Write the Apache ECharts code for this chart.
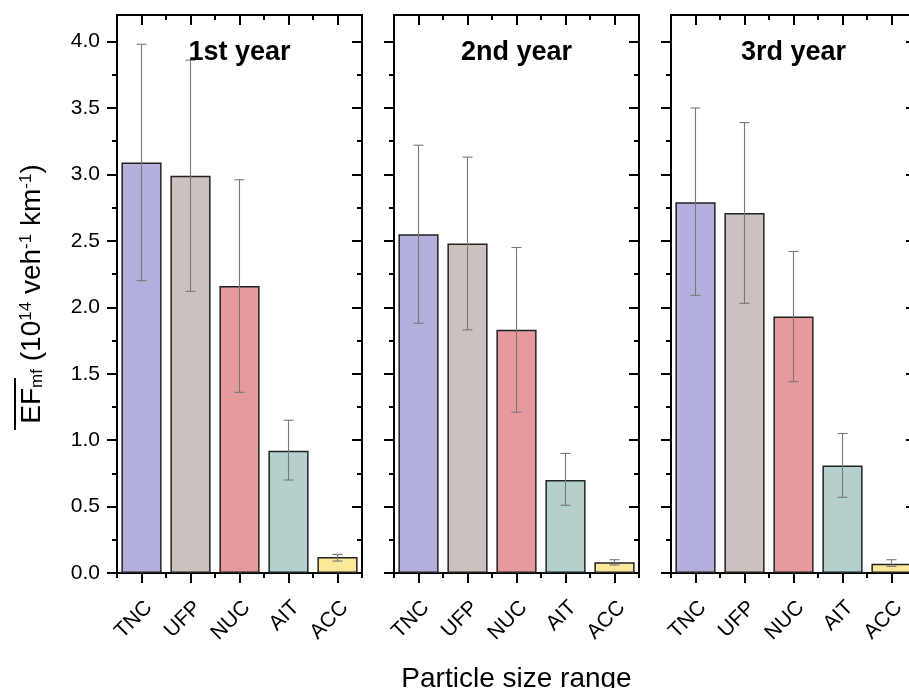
<!DOCTYPE html>
<html>
<head>
<meta charset="utf-8">
<script src="https://cdn.jsdelivr.net/npm/echarts@6/dist/echarts.min.js"></script>
<style>
  html, body {margin: 0; padding: 0; background: #fff;}
  #chart {width: 909px; height: 688px;}
</style>
</head>
<body>
<div id="chart"></div>
<script>
// particle size ranges, one bar each per panel
const categories = ['TNC', 'UFP', 'NUC', 'AIT', 'ACC'];
const panelTitles = ['1st year', '2nd year', '3rd year'];
const barColors = ['#b3b0de', '#cbc1be', '#e79a9b', '#b4d0cc', '#fbe89b'];

// mean EF values (10^14 veh-1 km-1)
const year1Mean = [3.09, 2.99, 2.16, 0.92, 0.12];
const year2Mean = [2.55, 2.48, 1.83, 0.70, 0.08];
const year3Mean = [2.79, 2.71, 1.93, 0.81, 0.07];

// error bar bounds
const year1Low  = [2.20, 2.12, 1.36, 0.70, 0.09];
const year1High = [3.98, 3.86, 2.96, 1.15, 0.14];
const year2Low  = [1.88, 1.83, 1.21, 0.51, 0.06];
const year2High = [3.22, 3.13, 2.45, 0.90, 0.10];
const year3Low  = [2.09, 2.03, 1.44, 0.57, 0.05];
const year3High = [3.50, 3.39, 2.42, 1.05, 0.10];

const yMajorTicks = [0, 0.5, 1.0, 1.5, 2.0, 2.5, 3.0, 3.5, 4.0];
const yMinorTicks = [0.25, 0.75, 1.25, 1.75, 2.25, 2.75, 3.25, 3.75];

const means = [year1Mean, year2Mean, year3Mean];
const lows = [year1Low, year2Low, year3Low];
const highs = [year1High, year2High, year3High];

const FONT = "'Liberation Sans', Arial, sans-serif";
const panelLeft = [117, 394, 671];
const panelWidth = 245;
const panelTop = 15;
const panelHeight = 558;

let grids = [], xAxes = [], yAxes = [], series = [], graphics = [];

panelLeft.forEach((left, g) => {
    grids.push({left: left, top: panelTop, width: panelWidth, height: panelHeight, outerBoundsMode: 'none'});

    const line = {show: true, onZero: false, lineStyle: {color: '#000', width: 2}};
    const noLine = {show: false, onZero: false};
    // bottom: ticks at centres (with labels) and short ticks at boundaries
    xAxes.push({
        gridIndex: g, type: 'category', data: categories, position: 'bottom',
        axisLine: line,
        axisTick: {show: true, alignWithLabel: true, length: 10, lineStyle: {color: '#000', width: 2}},
        axisLabel: {rotate: 45, fontSize: 21, margin: 24, verticalAlign: 'top', color: '#000', fontFamily: FONT},
        name: g === 1 ? 'Particle size range' : '',
        nameLocation: 'middle', nameGap: 92,
        nameTextStyle: {fontSize: 28, color: '#000', fontFamily: FONT}
    });
    xAxes.push({
        gridIndex: g, type: 'category', data: categories, position: 'bottom',
        axisLine: noLine,
        axisTick: {show: true, alignWithLabel: false, length: 5, lineStyle: {color: '#000', width: 2}},
        axisLabel: {show: false}
    });
    // top: inward ticks only
    xAxes.push({
        gridIndex: g, type: 'category', data: categories, position: 'top',
        axisLine: line,
        axisTick: {show: true, alignWithLabel: true, inside: true, length: 10, lineStyle: {color: '#000', width: 2}},
        axisLabel: {show: false}
    });
    xAxes.push({
        gridIndex: g, type: 'category', data: categories, position: 'top',
        axisLine: noLine,
        axisTick: {show: true, alignWithLabel: false, inside: true, length: 5, lineStyle: {color: '#000', width: 2}},
        axisLabel: {show: false}
    });

    const yBase = {gridIndex: g, type: 'value', min: 0, max: 4.2, splitLine: {show: false}};
    yAxes.push(Object.assign({}, yBase, {
        position: 'left',
        axisLine: {show: true, lineStyle: {color: '#000', width: 2}},
        axisTick: {show: true, customValues: yMajorTicks, length: 10, lineStyle: {color: '#000', width: 2}},
        axisLabel: {
            show: g === 0, customValues: yMajorTicks, margin: 17, fontSize: 21,
            color: '#000', fontFamily: FONT, formatter: v => v.toFixed(1)
        },
        name: g === 0 ? '{n|EF}{sub|mf}{n| (10}{sup|14}{n| veh}{sup|-1}{n| km}{sup|-1}{n|)}' : '',
        nameLocation: 'middle', nameRotate: 90, nameGap: 71,
        nameTextStyle: {
            color: '#000', fontFamily: FONT,
            rich: {
                n: {fontSize: 28, fontFamily: FONT, color: '#000'},
                sub: {fontSize: 17, fontFamily: FONT, color: '#000', verticalAlign: 'bottom'},
                sup: {fontSize: 17, fontFamily: FONT, color: '#000', verticalAlign: 'top'}
            }
        }
    }));
    yAxes.push(Object.assign({}, yBase, {
        position: 'left',
        axisLine: {show: false},
        axisTick: {show: true, customValues: yMinorTicks, length: 5, lineStyle: {color: '#000', width: 2}},
        axisLabel: {show: false}
    }));
    yAxes.push(Object.assign({}, yBase, {
        position: 'right',
        axisLine: {show: true, lineStyle: {color: '#000', width: 2}},
        axisTick: {show: true, inside: true, customValues: yMajorTicks, length: 10, lineStyle: {color: '#000', width: 2}},
        axisLabel: {show: false}
    }));
    yAxes.push(Object.assign({}, yBase, {
        position: 'right',
        axisLine: {show: false},
        axisTick: {show: true, inside: true, customValues: yMinorTicks, length: 5, lineStyle: {color: '#000', width: 2}},
        axisLabel: {show: false}
    }));

    series.push({
        type: 'bar', xAxisIndex: g * 4, yAxisIndex: g * 4,
        barWidth: '82%',
        data: means[g].map((v, i) => ({
            value: v,
            itemStyle: {color: barColors[i], borderColor: '#222', borderWidth: 1.5}
        })),
        z: 2
    });

    series.push({
        type: 'custom', xAxisIndex: g * 4, yAxisIndex: g * 4, z: 3,
        data: categories.map((c, i) => [i, lows[g][i], highs[g][i]]),
        renderItem: (params, api) => {
            const lo = api.coord([api.value(0), api.value(1)]);
            const hi = api.coord([api.value(0), api.value(2)]);
            const half = 5;
            const style = {stroke: '#777', lineWidth: 1.1};
            return {
                type: 'group',
                children: [
                    {type: 'line', shape: {x1: lo[0], y1: lo[1], x2: hi[0], y2: hi[1]}, style: style},
                    {type: 'line', shape: {x1: lo[0] - half, y1: lo[1], x2: lo[0] + half, y2: lo[1]}, style: style},
                    {type: 'line', shape: {x1: hi[0] - half, y1: hi[1], x2: hi[0] + half, y2: hi[1]}, style: style}
                ]
            };
        }
    });

    graphics.push({
        type: 'text', x: left + panelWidth / 2, y: 53, z: 10,
        style: {
            text: panelTitles[g], align: 'center', verticalAlign: 'middle',
            font: 'bold 27px ' + FONT, fill: '#000'
        }
    });
});

// overline above "EF" in the y axis name
graphics.push({
    type: 'rect', z: 10,
    shape: {x: 14, y: 378, width: 2, height: 52},
    style: {fill: '#000'}
});

const chart = echarts.init(document.getElementById('chart'), null, {renderer: 'canvas'});
chart.setOption({
    animation: false,
    backgroundColor: '#fff',
    grid: grids,
    xAxis: xAxes,
    yAxis: yAxes,
    series: series,
    graphic: graphics
});
</script>
</body>
</html>
